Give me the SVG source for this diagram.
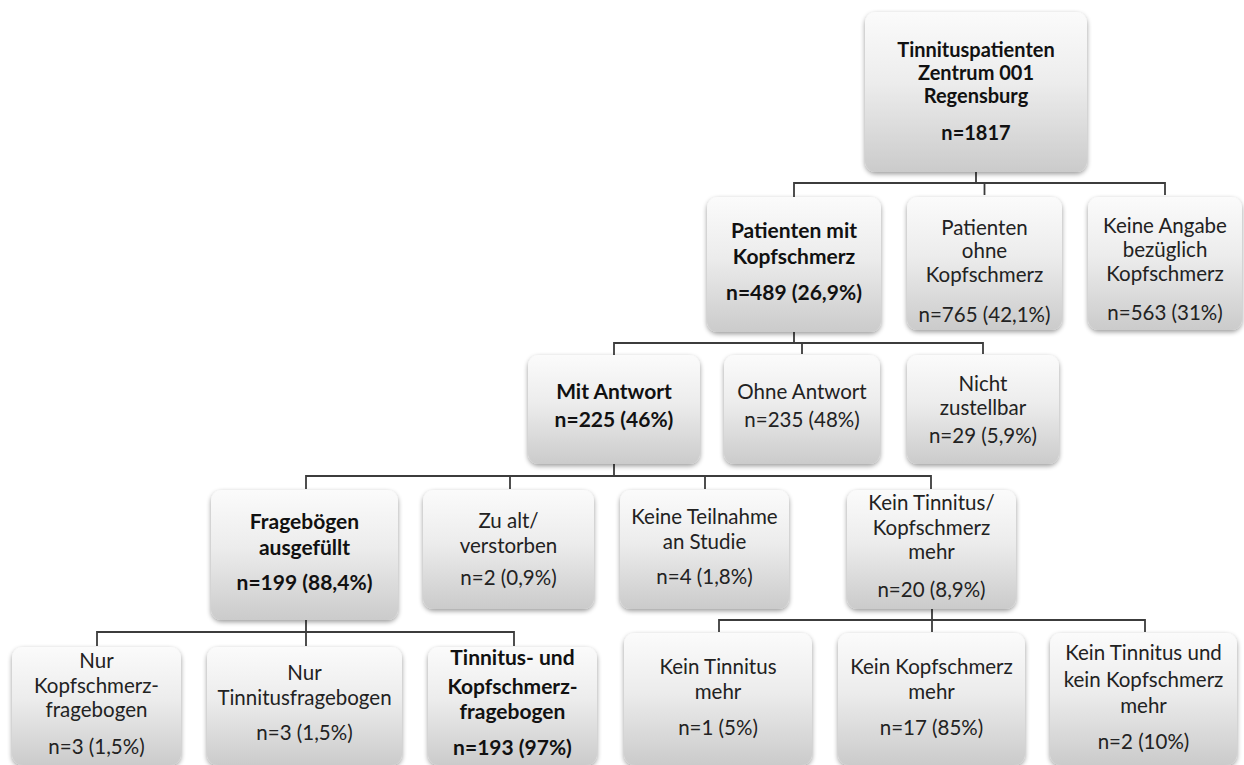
<svg xmlns="http://www.w3.org/2000/svg" width="1244" height="765" viewBox="0 0 1244 765">
<defs>
<linearGradient id="g" x1="0" y1="0" x2="0" y2="1">
<stop offset="0" stop-color="#fbfbfb"/>
<stop offset="0.45" stop-color="#ececec"/>
<stop offset="1" stop-color="#cbcbcb"/>
</linearGradient>
<filter id="sh" x="-10%" y="-10%" width="120%" height="125%">
<feGaussianBlur in="SourceAlpha" stdDeviation="2.5"/>
<feOffset dx="0" dy="2" result="b"/>
<feComponentTransfer><feFuncA type="linear" slope="0.4"/></feComponentTransfer>
<feMerge><feMergeNode/><feMergeNode in="SourceGraphic"/></feMerge>
</filter>
</defs>
<style>
.box{fill:url(#g);filter:url(#sh)}
text{font-family:Lato,"Open Sans",sans-serif;font-size:20.5px;fill:#222;text-anchor:middle}
.b{font-weight:bold;fill:#111;font-size:21px}
.r{font-size:20px}
.c{fill:none;stroke:#3c3c3c;stroke-width:1.8}
</style>
<rect width="1244" height="765" fill="#fff"/>
<g id="connectors">
<path class="c" d="M976 172V183H794V197M976 183H984.5V195M976 183H1165V195"/>
<path class="c" d="M794 332V343H614V355M794 343H802V354M794 343H983V354"/>
<path class="c" d="M614 464V476H306V489M614 476H510V489M614 476H705V489M614 476H931V489"/>
<path class="c" d="M306 620V632H97V646M306 632V646M306 632H514V646"/>
<path class="c" d="M932 609V620H719V632M932 620V632M932 620H1145V632"/>
</g>
<g id="root"><rect class="box" x="865" y="12" width="222" height="160" rx="11"/>
<text class="b r" x="976" y="57">Tinnituspatienten</text><text class="b r" x="976" y="80">Zentrum 001</text><text class="b r" x="976" y="103">Regensburg</text><text class="b r" x="976" y="140">n=1817</text></g>
<g id="mitKopf"><rect class="box" x="707" y="197" width="174" height="135" rx="11"/>
<text class="b" x="794" y="238">Patienten mit</text><text class="b" x="794" y="264">Kopfschmerz</text><text class="b" x="794" y="300">n=489 (26,9%)</text></g>
<g id="ohneKopf"><rect class="box" x="907" y="197" width="155" height="133" rx="11"/>
<text x="984.5" y="235">Patienten</text><text x="984.5" y="258">ohne</text><text x="984.5" y="282">Kopfschmerz</text><text x="984.5" y="322">n=765 (42,1%)</text></g>
<g id="keineAngabe"><rect class="box" x="1088" y="197" width="154" height="133" rx="11"/>
<text x="1165" y="233">Keine Angabe</text><text x="1165" y="257">bezüglich</text><text x="1165" y="281">Kopfschmerz</text><text x="1165" y="320">n=563 (31%)</text></g>
<g id="mitAntwort"><rect class="box" x="528" y="355" width="172" height="109" rx="11"/>
<text class="b" x="614" y="399">Mit Antwort</text><text class="b" x="614" y="427">n=225 (46%)</text></g>
<g id="ohneAntwort"><rect class="box" x="724" y="355" width="156" height="109" rx="11"/>
<text x="802" y="399">Ohne Antwort</text><text x="802" y="427">n=235 (48%)</text></g>
<g id="nichtZustellbar"><rect class="box" x="907" y="355" width="152" height="109" rx="11"/>
<text x="983" y="391">Nicht</text><text x="983" y="415">zustellbar</text><text x="983" y="443">n=29 (5,9%)</text></g>
<g id="frageboegen"><rect class="box" x="211" y="490" width="187" height="130" rx="11"/>
<text class="b" x="304.5" y="529">Fragebögen</text><text class="b" x="304.5" y="555">ausgefüllt</text><text class="b" x="304.5" y="590">n=199 (88,4%)</text></g>
<g id="zuAlt"><rect class="box" x="423" y="490" width="171" height="119" rx="11"/>
<text x="508.5" y="528">Zu alt/</text><text x="508.5" y="553">verstorben</text><text x="508.5" y="585">n=2 (0,9%)</text></g>
<g id="keineTeilnahme"><rect class="box" x="620" y="490" width="169" height="119" rx="11"/>
<text x="704.5" y="524">Keine Teilnahme</text><text x="704.5" y="549">an Studie</text><text x="704.5" y="584">n=4 (1,8%)</text></g>
<g id="keinMehr"><rect class="box" x="847" y="490" width="169" height="119" rx="11"/>
<text x="931.5" y="510">Kein Tinnitus/</text><text x="931.5" y="535">Kopfschmerz</text><text x="931.5" y="559">mehr</text><text x="931.5" y="597">n=20 (8,9%)</text></g>
<g id="nurKopf"><rect class="box" x="12" y="647" width="169" height="118" rx="11"/>
<text x="96.5" y="668">Nur</text><text x="96.5" y="693">Kopfschmerz-</text><text x="96.5" y="717">fragebogen</text><text x="96.5" y="754">n=3 (1,5%)</text></g>
<g id="nurTinnitus"><rect class="box" x="207" y="647" width="195" height="118" rx="11"/>
<text x="304.5" y="680">Nur</text><text x="304.5" y="705">Tinnitusfragebogen</text><text x="304.5" y="740">n=3 (1,5%)</text></g>
<g id="beide"><rect class="box" x="428" y="647" width="169" height="118" rx="11"/>
<text class="b" x="512.5" y="665">Tinnitus- und</text><text class="b" x="512.5" y="694">Kopfschmerz-</text><text class="b" x="512.5" y="719">fragebogen</text><text class="b" x="512.5" y="755">n=193 (97%)</text></g>
<g id="keinTinnitus"><rect class="box" x="624" y="633" width="188" height="132" rx="11"/>
<text x="718" y="674">Kein Tinnitus</text><text x="718" y="699">mehr</text><text x="718" y="735">n=1 (5%)</text></g>
<g id="keinKopf"><rect class="box" x="838" y="633" width="187" height="132" rx="11"/>
<text x="931.5" y="674">Kein Kopfschmerz</text><text x="931.5" y="699">mehr</text><text x="931.5" y="735">n=17 (85%)</text></g>
<g id="keinBeides"><rect class="box" x="1050" y="633" width="187" height="132" rx="11"/>
<text x="1143.5" y="660">Kein Tinnitus und</text><text x="1143.5" y="687">kein Kopfschmerz</text><text x="1143.5" y="713">mehr</text><text x="1143.5" y="749">n=2 (10%)</text></g>
</svg>
